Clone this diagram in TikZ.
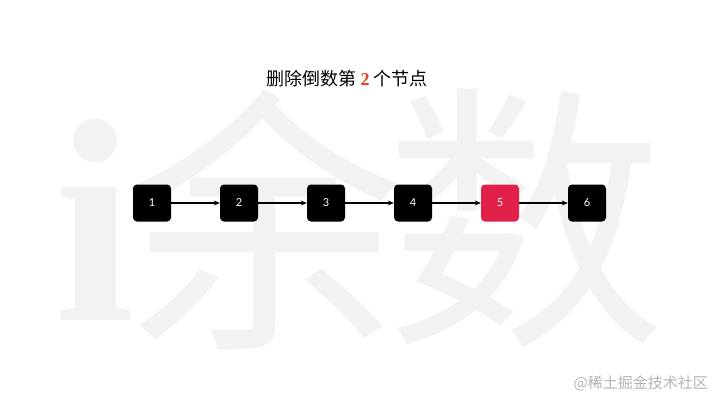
\documentclass[tikz,border=0pt]{standalone}
\usepackage{fontspec}
\newfontfamily\cjk{Noto Sans CJK SC}
\newfontfamily\serif{Liberation Serif}
\newfontfamily\lato{Lato}
\usetikzlibrary{arrows.meta}
\definecolor{wm}{HTML}{F2F2F2}
\definecolor{hot}{HTML}{E2214B}
\definecolor{two}{HTML}{E8401C}
\definecolor{foot}{HTML}{B4B4B4}
\tikzset{
  listnode/.style={rectangle, rounded corners=4pt, minimum width=38pt, minimum height=37pt, inner sep=0pt, fill=black, text=white, font=\lato\fontsize{11}{11}\selectfont},
  hotnode/.style={listnode, fill=hot},
  link/.style={-{Stealth[length=6pt,width=5pt]}, line width=1.3pt, black}
}
\begin{document}
\begin{tikzpicture}[x=1pt,y=-1pt]
\useasboundingbox[fill=white] (0,0) rectangle (720,405);
% watermark
\node[text=wm, font=\serif\bfseries\fontsize{290}{290}\selectfont, inner sep=0pt] (wi) at (95,220) {i};
\node[text=wm, font=\cjk\fontsize{280}{280}\selectfont, inner sep=0pt] (wyu) at (263,220) {余};
\node[text=wm, font=\cjk\fontsize{280}{280}\selectfont, inner sep=0pt] (wshu) at (525,218) {数};
% title
\node[font=\cjk\fontsize{18}{18}\selectfont, inner sep=0pt] (title) at (347,79) {删除倒数第 {\serif\bfseries\color{two}2} 个节点};
% nodes
\node[listnode] (n1) at (152,203) {1};
\node[listnode] (n2) at (239,203) {2};
\node[listnode] (n3) at (326,203) {3};
\node[listnode] (n4) at (413,203) {4};
\node[hotnode]  (n5) at (500,203) {5};
\node[listnode] (n6) at (587,203) {6};
\draw[link] (n1) -- (n2);
\draw[link] (n2) -- (n3);
\draw[link] (n3) -- (n4);
\draw[link] (n4) -- (n5);
\draw[link] (n5) -- (n6);
% footer
\node[text=foot, font=\cjk\fontsize{15}{15}\selectfont, anchor=east, inner sep=0pt] (foot) at (708,383) {@稀土掘金技术社区};
\end{tikzpicture}
\end{document}
